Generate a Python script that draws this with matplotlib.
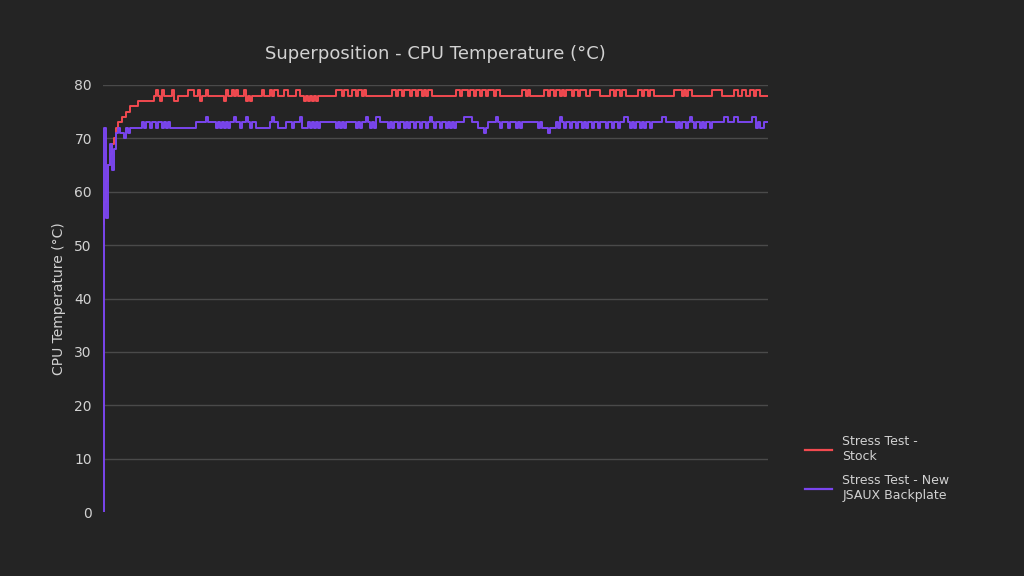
import numpy as np
import matplotlib
matplotlib.use("Agg")
import matplotlib.pyplot as plt

title = "Superposition - CPU Temperature (°C)"
y_label = "CPU Temperature (°C)"
series_names = ["Stress Test -\nStock", "Stress Test - New\nJSAUX Backplate"]
y_ticks = [0, 10, 20, 30, 40, 50, 60, 70, 80]

stock_temp = [
    54, 58, 62, 65, 67, 69, 70, 72, 73, 73, 74, 74, 75, 75, 76, 76, 76, 76,
    77, 77, 77, 77, 77, 77, 77, 77,
    78, 79, 78, 77, 79, 78, 78, 78, 78, 79, 77, 77, 78, 78, 78, 78, 78, 79, 79, 79, 78, 78, 79, 77, 78, 78, 79, 78,
    78, 78, 78, 78, 78, 78, 78,
    77, 79, 78, 78, 79, 78, 79, 78, 78, 78, 79, 77, 78, 77, 78,
    78, 78, 78, 78, 79, 78, 78,
    78, 79, 78, 79, 79, 78, 78, 78, 79, 79, 78, 78, 78, 78, 79, 79, 78, 78, 77, 78, 77, 78, 77, 78, 77,
    78, 78, 78, 78, 78, 78, 78, 78, 78,
    79, 79, 79, 78, 79, 79, 78, 78, 79, 79, 78, 79, 79, 78, 79,
    78, 78, 78, 78, 78, 78, 78, 78, 78, 78, 78, 78, 78,
    79, 79, 78, 79, 79, 78, 79, 79, 79, 78, 79, 79, 78, 79, 79, 78, 79, 78, 79, 79,
    78, 78, 78, 78, 78, 78, 78, 78, 78, 78, 78, 78,
    79, 79, 78, 79, 79, 79, 78, 79, 79, 78, 79, 79, 78, 79, 79, 78, 79, 79, 79, 78, 79, 79,
    78, 78, 78, 78, 78, 78, 78, 78, 78, 78, 78,
    79, 79, 78, 79,
    78, 78, 78, 78, 78, 78, 78,
    79, 79, 78, 79, 79, 78, 79, 79, 78, 79, 78, 79, 79, 79, 78, 79, 79, 78, 79, 79, 79, 78, 78, 79, 79, 79, 79, 79,
    78, 78, 78, 78, 78,
    79, 79, 78, 79, 79, 78, 79, 79, 78,
    78, 78, 78, 78, 78,
    79, 79, 78, 79, 79, 78, 79, 79,
    78, 78, 78, 78, 78, 78, 78, 78, 78, 78,
    79, 79, 79, 79, 78, 79, 78, 79, 79,
    78, 78, 78, 78, 78, 78, 78, 78, 78, 78,
    79, 79, 79, 79, 79,
    78, 78, 78, 78, 78, 78,
    79, 79, 78, 78, 79, 79, 78, 78, 79, 79, 78, 79, 79,
    78, 78, 78, 78,
]

jsaux_temp = [
    0, 72, 55, 65, 69, 64, 68, 71, 72, 71, 71, 70, 72, 71, 72,
    72, 72, 72, 72, 72,
    73, 72, 73, 73, 72, 73, 73, 72, 73, 73, 72, 73, 72, 73, 72,
    72, 72, 72, 72, 72, 72, 72, 72, 72, 72, 72, 72,
    73, 73, 73, 73, 73, 74, 73, 73, 73, 73, 72, 73, 72, 73, 72, 73, 72, 73, 73, 74, 73, 73, 72, 73, 73, 74, 73, 72, 73, 73,
    72, 72, 72, 72, 72, 72, 72,
    73, 74, 73, 73, 72, 72, 72, 72, 73, 73, 73, 72, 73, 73, 73, 74, 72, 72, 72, 73, 72, 73, 72, 73, 72, 73,
    73, 73, 73, 73, 73, 73, 73, 72, 73, 72, 73, 72, 73, 73, 73, 73, 73, 72, 73, 72, 73, 73, 74, 73, 72, 73, 72, 74, 74,
    73, 73, 73, 73, 72, 73, 72, 73, 73, 72, 73, 73, 72, 73, 72, 73, 73, 72, 73, 73, 72, 73, 73, 72, 73, 74, 73, 72, 73, 73, 72, 73, 73, 72, 73, 72, 73, 72,
    73, 73, 73, 73, 74, 74, 74, 74, 73, 73, 73, 72, 72, 72, 71, 72, 73,
    73, 73, 73, 74, 73, 72, 73, 73, 73, 72, 73, 73, 73, 72, 73, 72, 73,
    73, 73, 73, 73, 73, 73, 73, 72, 73, 72, 72, 72, 71, 72, 72, 72, 73, 72, 74, 73, 72, 73, 73, 72, 73, 73, 72, 73, 73, 72, 73, 72, 73, 73, 72, 73, 73, 72,
    73, 73, 73, 72, 73, 73, 72, 73, 73, 72, 73, 73, 74, 74, 73, 72, 73, 72, 73, 73, 72, 73, 72, 73, 73, 72,
    73, 73, 73, 73, 73, 74, 74, 73, 73, 73, 73, 73, 72, 73, 72, 73, 73, 72, 73, 74, 73, 72, 73, 73, 72, 73, 72, 73, 73, 72, 73,
    73, 73, 73, 73, 73, 74, 74, 73, 73, 73, 74, 74, 73, 73, 73, 73, 73, 73, 73, 74, 74, 72, 73, 72, 72, 73, 73,
]

series_values = [stock_temp, jsaux_temp]
series_colors = ["#f24a50", "#7a45ee"]

BG = "#242424"
TEXT = "#d2d2d2"
GRID = "#4a4a4a"

fig = plt.figure(figsize=(10.24, 5.76), dpi=100, facecolor=BG)
ax = fig.add_axes([103 / 1024, 1 - 512 / 576, (768 - 103) / 1024, (512 - 85) / 576])
ax.set_facecolor(BG)

n_max = max(len(v) for v in series_values)
for vals, name, col in zip(series_values, series_names, series_colors):
    x = np.arange(len(vals))
    ax.plot(x, vals, color=col, lw=1.4, drawstyle="steps-pre", label=name, zorder=3)

ax.set_xlim(-0.4, n_max - 1)
ax.set_ylim(0, 80)
ax.set_yticks(y_ticks)
ax.set_xticks([])
ax.tick_params(axis="y", length=0, pad=8, labelsize=10, labelcolor=TEXT)
for t in y_ticks[1:]:
    ax.axhline(t, color=GRID, lw=1.0, zorder=1)
for s in ax.spines.values():
    s.set_visible(False)

ax.set_ylabel(y_label, color=TEXT, fontsize=10, labelpad=6)
fig.text(435 / 1024, 1 - 54 / 576, title, color=TEXT, fontsize=13, ha="center", va="center")

leg = fig.legend(loc="upper left", bbox_to_anchor=(794 / 1024, 1 - 424 / 576),
                 frameon=False, fontsize=9, handlelength=2.1, handletextpad=0.85,
                 labelspacing=0.9, labelcolor=TEXT)
for line in leg.get_lines():
    line.set_linewidth(1.6)

fig.savefig("out.png", dpi=100, facecolor=BG)
